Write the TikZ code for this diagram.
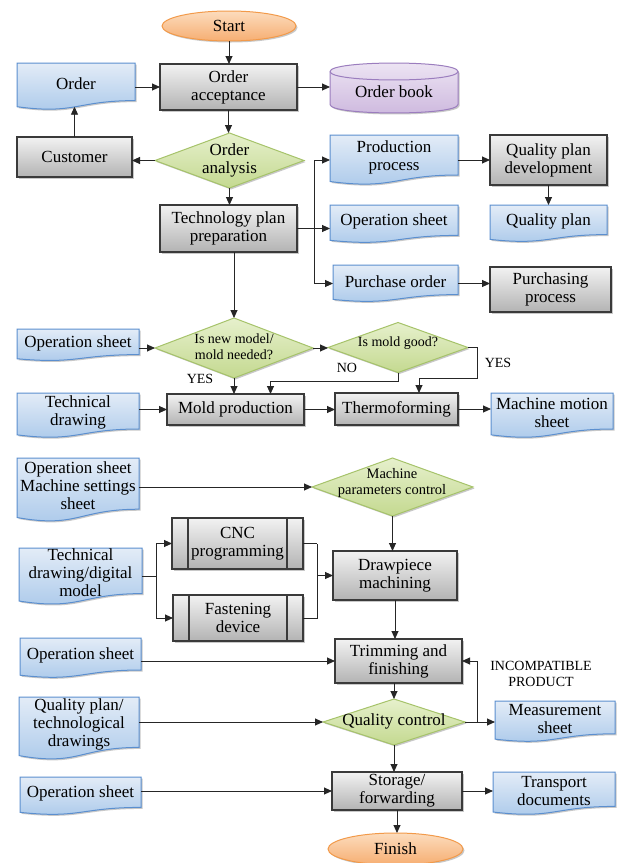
\documentclass[tikz,border=0pt]{standalone}
\usepackage{fontspec}
\setmainfont{Liberation Serif}
\usetikzlibrary{shapes.geometric,arrows.meta,calc,shadows}
\pgfdeclarelayer{background}
\pgfsetlayers{background,main}
\definecolor{doctop}{HTML}{E3ECF7}
\definecolor{docbot}{HTML}{A9C8EA}
\definecolor{docline}{HTML}{5B8FCF}
\definecolor{proctop}{HTML}{F2F2F2}
\definecolor{procbot}{HTML}{B3B3B3}
\definecolor{procline}{HTML}{3A3A3A}
\definecolor{dectop}{HTML}{E6F0CC}
\definecolor{decbot}{HTML}{C4D990}
\definecolor{decline}{HTML}{A6C36A}
\definecolor{termtop}{HTML}{FCDCBD}
\definecolor{termbot}{HTML}{F6AE72}
\definecolor{termline}{HTML}{F29A4A}
\definecolor{cyltop}{HTML}{EEE6F4}
\definecolor{cylbot}{HTML}{CDB8DE}
\definecolor{cylline}{HTML}{9B7DBE}
\definecolor{linec}{HTML}{262626}

\newcommand{\docu}[6]{%
  \node[docanchor, minimum width=#4, minimum height=#5] (#1) at (#2,#3) {};
  \begin{pgfonlayer}{background}
  \path[docshape] (#1.north west) -- (#1.north east) -- ($(#1.north east)!0.80!(#1.south east)$)
     .. controls ($(#1.north)!0.80!(#1.south)$) and ($(#1.north)!1.10!(#1.south)$) .. ($(#1.north west)!0.93!(#1.south west)$) -- cycle;
  \end{pgfonlayer}
  \node[txt] (#1-t) at ($(#1.center)+(0,-0.06*#5)$) {#6};
}

\begin{document}
\begin{tikzpicture}[x=1pt,y=-1pt,
  txt/.style={font=\rmfamily\fontsize{17}{18}\selectfont, align=center, inner sep=0pt, text=black},
  txtsm/.style={font=\rmfamily\fontsize{14}{16}\selectfont, align=center, inner sep=0pt},
  lbl/.style={font=\rmfamily\fontsize{14}{16}\selectfont, align=center, inner sep=0pt},
  shad/.style={drop shadow={shadow xshift=1.5pt, shadow yshift=-1.5pt, opacity=0.3, fill=black!70}},
  docanchor/.style={rectangle, draw=none, inner sep=0pt, outer sep=0pt},
  docshape/.style={draw=docline, line width=1pt, top color=doctop, bottom color=docbot, shad},
  proc/.style={rectangle, draw=procline, line width=1.1pt, top color=proctop, bottom color=procbot,
    inner sep=1pt, outer sep=0pt, align=center, font=\rmfamily\fontsize{17}{18}\selectfont, shad},
  dec/.style={diamond, draw=decline, line width=1pt, top color=dectop, bottom color=decbot,
    inner sep=0pt, outer sep=0pt, shad},
  term/.style={ellipse, draw=termline, line width=1pt, top color=termtop, bottom color=termbot,
    inner sep=0pt, outer sep=0pt, font=\rmfamily\fontsize{17}{18}\selectfont, shad},
  cyl/.style={draw=cylline, line width=1pt, top color=cyltop, bottom color=cylbot, shad},
  conn/.style={draw=linec, line width=0.9pt},
  arr/.style={draw=linec, line width=0.9pt, -{Triangle[length=8pt,width=7pt]}},
  subline/.style={draw=procline, line width=1.1pt}
]
\useasboundingbox (0,0) rectangle (620,863);
\begin{pgfonlayer}{background}
\fill[white] (0,0) rectangle (620,863);
\end{pgfonlayer}

% ---------- top part ----------
\node[term, minimum width=134, minimum height=30] (start) at (229,26) {Start};
\node[proc, minimum width=137, minimum height=46] (oa) at (228.5,87) {Order\\acceptance};
\docu{order}{76}{86.5}{118}{47}{Order}
\coordinate (orderbot) at ($(order.north)!0.93!(order.south)$);
\path[cyl] (330,71.5) -- (330,104.5) .. controls (330,115.8) and (458,115.8) .. (458,104.5)
   -- (458,71.5) .. controls (458,60.2) and (330,60.2) .. (330,71.5) -- cycle;
\draw[draw=cylline, line width=1pt] (330,71.5) .. controls (330,82.8) and (458,82.8) .. (458,71.5);
\node[docanchor, minimum width=128, minimum height=50] (ob) at (394,88) {};
\node[txt] (ob-t) at (394,92) {Order book};
\node[proc, minimum width=115, minimum height=40] (cust) at (74.5,157) {Customer};
\node[dec, minimum width=149, minimum height=55] (oan) at (229.5,160.5) {};
\node[txt] (oan-t) at (oan) {Order\\analysis};
\docu{pp}{394}{160}{128}{50}{Production\\process}
\node[proc, minimum width=117, minimum height=50] (qpd) at (548.5,160) {Quality plan\\development};
\docu{os1}{394}{224}{128}{38}{Operation sheet}
\docu{qp}{548.5}{223.5}{117}{37}{Quality plan}
\docu{po}{395.5}{283.5}{125}{37}{Purchase order}
\node[proc, minimum width=121, minimum height=45] (purch) at (550.5,289.5) {Purchasing\\process};
\node[proc, minimum width=137, minimum height=47] (tp) at (228.5,228.5) {Technology plan\\preparation};

\draw[arr] (start.south) -- (start.south |- oa.north);
\draw[arr] (order.east |- oa.west) -- (oa.west);
\draw[arr] (oa.east) -- (oa.east -| ob.west);
\draw[arr] (oa.south) -- (oa.south |- oan.north);
\draw[arr] (oan.west) -- (oan.west -| cust.east);
\draw[arr] (cust.north) -- (cust.north |- orderbot);
\draw[arr] (oan.south) -- (oan.south |- tp.north);
\draw[conn] (tp.east) -- ++(17,0) coordinate (br);
\draw[conn] (br |- pp.west) -- (br |- po.west);
\draw[arr] (br |- pp.west) -- (pp.west);
\draw[arr] (br) -- (br -| os1.west);
\draw[arr] (br |- po.west) -- (po.west);
\draw[arr] (pp.east) -- (pp.east -| qpd.west);
\draw[arr] (qpd.south) -- (qpd.south |- qp.north);
\draw[arr] (po.east) -- (po.east -| purch.west);

% ---------- mold part ----------
\node[dec, minimum width=158, minimum height=60] (d1) at (234,348) {};
\node[txtsm] (d1-t) at (234,347) {Is new model/\\mold needed?};
\docu{os2}{78}{345}{122}{32}{Operation sheet}
\node[dec, minimum width=140, minimum height=50] (d2) at (398,347.5) {};
\node[txtsm] (d2-t) at (398,343) {Is mold good?};
\docu{td}{78}{415.5}{122}{45}{Technical\\drawing}
\node[proc, minimum width=137, minimum height=31] (mold) at (235.5,409.5) {Mold production};
\node[proc, minimum width=123, minimum height=32] (thermo) at (396.5,409) {Thermoforming};
\docu{mms}{552}{415.5}{122}{45}{Machine motion\\sheet}
\node[lbl] (yes1) at (200,379) {YES};
\node[lbl] (no1) at (347,368) {NO};
\node[lbl] (yes2) at (498,363) {YES};
\coordinate (yk) at (477,378);

\draw[arr] (d1.north |- tp.south) -- (d1.north);
\draw[arr] (os2.east |- d1.west) -- (d1.west);
\draw[arr] (d1.east) -- (d1.east -| d2.west);
\draw[arr] (d1.south) -- (d1.south |- mold.north);
\draw[arr] (d2.south) -- ++(0,9) -| ([xshift=35pt]mold.north);
\draw[arr] (d2.east) -| (yk) -| ([xshift=22.5pt]thermo.north);
\draw[arr] (td.east |- mold.west) -- (mold.west);
\draw[arr] (mold.east) -- (mold.east -| thermo.west);
\draw[arr] (thermo.east) -- (thermo.east -| mms.west);

% ---------- machining part ----------
\docu{ms}{78}{490}{122}{64}{Operation sheet\\Machine settings\\sheet}
\node[dec, minimum width=161, minimum height=58] (d3) at (392.5,487) {};
\node[font=\rmfamily\fontsize{14.5}{16.5}\selectfont, align=center, inner sep=0pt] (d3-t) at (392,483) {Machine\\parameters control};
\node[proc, minimum width=131, minimum height=51] (cnc) at (237.5,543.5) {CNC\\programming};
\node[proc, minimum width=130, minimum height=46] (fd) at (238,618) {Fastening\\device};
\foreach \n in {cnc,fd}{
  \draw[subline] ([xshift=16pt]\n.north west) -- ([xshift=16pt]\n.south west);
  \draw[subline] ([xshift=-16pt]\n.north east) -- ([xshift=-16pt]\n.south east);
}
\docu{tdd}{80.5}{576.5}{123}{57}{Technical\\drawing/digital\\model}
\node[proc, minimum width=124, minimum height=49] (dp) at (395,575.5) {Drawpiece\\machining};

\draw[arr] (ms.east |- d3.west) -- (d3.west);
\draw[arr] (d3.south) -- (d3.south |- dp.north);
\draw[conn] (tdd.east) -- ++(14,0) coordinate (b2);
\draw[arr] (b2) |- (cnc.west);
\draw[arr] (b2) |- (fd.west);
\draw[conn] (cnc.east) -- ++(14,0) coordinate (m1);
\draw[conn] (fd.east) -| (m1);
\draw[arr] (m1 |- dp.west) -- (dp.west);

% ---------- finishing part ----------
\node[proc, minimum width=127, minimum height=44] (tf) at (398.5,661) {Trimming and\\finishing};
\docu{os3}{80.5}{658}{121}{40}{Operation sheet}
\node[dec, minimum width=142, minimum height=46] (qc) at (394,722) {};
\node[txt] (qc-t) at (394,721) {Quality control};
\docu{qpt}{79}{728.5}{120}{63}{Quality plan/\\technological\\drawings}
\docu{msh}{555}{721.5}{120}{41}{Measurement\\sheet}
\node[proc, minimum width=130, minimum height=38] (sf) at (397,791) {Storage/\\forwarding};
\docu{os4}{80.5}{796}{121}{38}{Operation sheet}
\docu{trd}{554}{793.5}{122}{43}{Transport\\documents}
\node[term, minimum width=135, minimum height=32] (fin) at (395.5,849) {Finish};
\node[lbl] (incomp) at (541,674) {INCOMPATIBLE\\PRODUCT};

\draw[arr] (dp.south) -- (dp.south |- tf.north);
\draw[arr] (os3.east |- tf.west) -- (tf.west);
\draw[arr] (qc.north |- tf.south) -- (qc.north);
\draw[arr] (qpt.east |- qc.west) -- (qc.west);
\draw[arr] (qc.east) -- (qc.east -| msh.west);
\coordinate (b3) at ([xshift=12pt]qc.east);
\draw[arr] (b3) |- (tf.east);
\draw[arr] (qc.south) -- (qc.south |- sf.north);
\draw[arr] (os4.east |- sf.west) -- (sf.west);
\draw[arr] (sf.east) -- (sf.east -| trd.west);
\draw[arr] (sf.south) -- (sf.south |- fin.north);
\end{tikzpicture}
\end{document}
